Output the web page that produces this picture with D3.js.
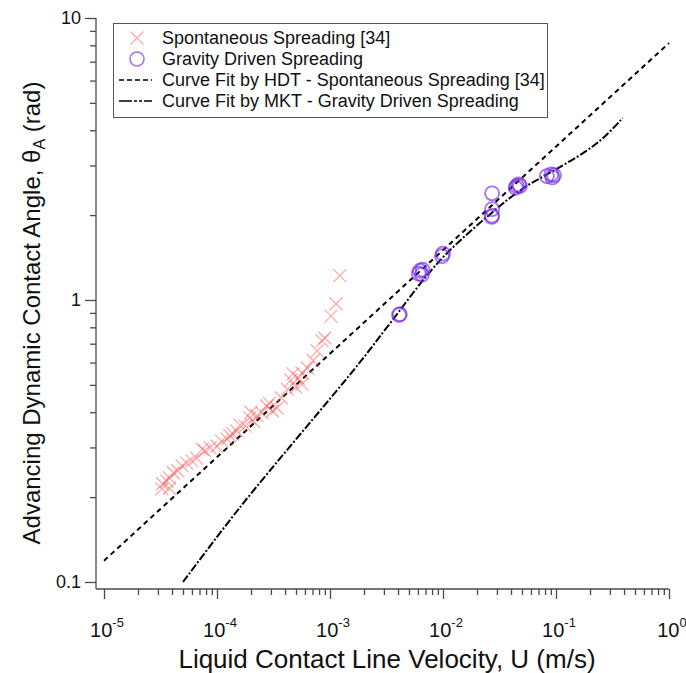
<!DOCTYPE html>
<html>
<head>
<meta charset="utf-8">
<script src="https://cdn.jsdelivr.net/npm/d3@7"></script>
<style>
  body { margin: 0; background: #fff; }
  svg { display: block; font-family: "Liberation Sans", Arial, sans-serif; }
</style>
</head>
<body>
<svg id="chart" width="686" height="673"></svg>
<script>
// Spontaneous spreading [34] (crosses)
const spontU = [1.22e-3, 1.13e-3, 1.02e-3, 9.0e-4, 8.5e-4, 7.7e-4, 7.1e-4, 6.3e-4, 5.65e-4, 5.25e-4,
  4.7e-4, 5.65e-4, 4.2e-4, 3.4e-4, 3.1e-4, 2.75e-4, 2.5e-4, 2.25e-4, 2.1e-4, 1.95e-4,
  1.78e-4, 1.5e-4, 1.38e-4, 1.23e-4, 1.1e-4, 1.0e-4, 8.7e-5, 7.8e-5, 7.4e-5, 6.6e-5,
  6.0e-5, 5.4e-5, 4.9e-5, 4.5e-5, 4.1e-5, 3.8e-5, 3.6e-5, 3.3e-5, 3.8e-5, 3.25e-5,
  2.9e-4, 4.5e-4, 5.0e-4, 3.7e-4, 2.0e-4, 1.6e-4, 1.3e-4];
const spontTheta = [1.22, 0.97, 0.877, 0.733, 0.716, 0.66, 0.61, 0.574, 0.551, 0.528,
  0.547, 0.503, 0.483, 0.414, 0.404, 0.421, 0.398, 0.389, 0.372, 0.382,
  0.357, 0.343, 0.335, 0.321, 0.316, 0.303, 0.299, 0.292, 0.296, 0.275,
  0.269, 0.264, 0.258, 0.248, 0.244, 0.234, 0.228, 0.223, 0.215, 0.214,
  0.43, 0.52, 0.49, 0.45, 0.40, 0.36, 0.33];

// Gravity driven spreading (circles)
const gravU = [4.08e-3, 4.15e-3, 6.25e-3, 6.5e-3, 6.6e-3, 6.1e-3, 1.0e-2, 9.8e-3,
  2.72e-2, 2.72e-2, 2.72e-2, 2.7e-2, 4.5e-2, 4.67e-2, 4.8e-2, 4.4e-2,
  8.3e-2, 9.1e-2, 9.6e-2, 9.3e-2];
const gravTheta = [0.885, 0.89, 1.27, 1.23, 1.28, 1.24, 1.46, 1.43,
  2.39, 2.10, 1.99, 1.97, 2.54, 2.57, 2.54, 2.50,
  2.75, 2.79, 2.77, 2.72];

// Curve fit by HDT
const hdtU = [1e-5, 1];
const hdtTheta = [0.119, 8.15];

// Curve fit by MKT
const mktU = [5.0e-5, 1.58e-4, 1.82e-3, 3.16e-3, 9.3e-3, 2.63e-2, 5.13e-2, 9.3e-2, 0.18, 0.27, 0.389];
const mktTheta = [0.1, 0.183, 0.598, 0.796, 1.374, 2.02, 2.49, 2.86, 3.35, 3.80, 4.42];

const xTicks = [1e-5, 1e-4, 1e-3, 1e-2, 1e-1, 1];
const xExp = ["-5", "-4", "-3", "-2", "-1", "0"];
const yTicks = [0.1, 1, 10];
const yTickLabels = ["0.1", "1", "10"];

const legendItems = [
  { label: "Spontaneous Spreading [34]", type: "cross" },
  { label: "Gravity Driven Spreading", type: "circle" },
  { label: "Curve Fit by HDT - Spontaneous Spreading [34]", type: "dash" },
  { label: "Curve Fit by MKT - Gravity Driven Spreading", type: "dashdot" }
];

const crossColor = "#ff5a5a";
const circleColor = "#7328e6";
const axisColor = "#4a4a4a";

const svg = d3.select("#chart");

const x = d3.scaleLog().domain([1e-5, 1]).range([104, 669]);
const y = d3.scaleLog().domain([0.1, 10]).range([582, 18]);

const axisX0 = 96, axisY0 = 589;

// minor tick values
const minorX = [];
for (let e = -5; e < 0; e++) for (let m = 2; m <= 9; m++) minorX.push(m * Math.pow(10, e));
const minorY = [];
for (let e = -1; e < 1; e++) for (let m = 2; m <= 9; m++) minorY.push(m * Math.pow(10, e));

// x axis
const gx = svg.append("g").attr("transform", "translate(0," + axisY0 + ")");
gx.call(d3.axisBottom(x).tickValues(minorX).tickSize(6).tickFormat(""));
gx.select(".domain").remove();
const gx2 = svg.append("g").attr("transform", "translate(0," + axisY0 + ")");
gx2.call(d3.axisBottom(x).tickValues(xTicks).tickSize(10).tickFormat(""));
gx2.select(".domain").remove();

svg.append("line")
  .attr("x1", axisX0).attr("x2", x(1)).attr("y1", axisY0).attr("y2", axisY0)
  .attr("stroke", axisColor).attr("stroke-width", 1.3);

const xl = svg.append("g").selectAll("text").data(xTicks).join("text")
  .attr("x", d => x(d) + 3)
  .attr("y", 637)
  .attr("text-anchor", "middle")
  .attr("font-size", 20)
  .attr("fill", "#111");
xl.append("tspan").text("10");
xl.append("tspan").attr("font-size", 13).attr("dy", -10).text((d, i) => xExp[i]);

// y axis
const gy = svg.append("g").attr("transform", "translate(" + axisX0 + ",0)");
gy.call(d3.axisLeft(y).tickValues(minorY).tickSize(6).tickFormat(""));
gy.select(".domain").remove();
const gy2 = svg.append("g").attr("transform", "translate(" + axisX0 + ",0)");
gy2.call(d3.axisLeft(y).tickValues(yTicks).tickSize(11).tickFormat(""));
gy2.select(".domain").remove();
svg.selectAll("g .tick line").attr("stroke", axisColor).attr("stroke-width", 1.3);

svg.append("line")
  .attr("x1", axisX0).attr("x2", axisX0).attr("y1", y(10)).attr("y2", axisY0)
  .attr("stroke", axisColor).attr("stroke-width", 1.3);

svg.append("g").selectAll("text").data(yTicks).join("text")
  .attr("x", 81)
  .attr("y", d => y(d) + 6)
  .attr("text-anchor", "end")
  .attr("font-size", 18)
  .attr("fill", "#111")
  .text((d, i) => yTickLabels[i]);

// axis titles
svg.append("text")
  .attr("x", 387).attr("y", 668)
  .attr("text-anchor", "middle")
  .attr("font-size", 26)
  .attr("fill", "#111")
  .text("Liquid Contact Line Velocity, U (m/s)");

const yt = svg.append("text")
  .attr("transform", "translate(40,313) rotate(-90)")
  .attr("text-anchor", "middle")
  .attr("font-size", 24)
  .attr("fill", "#111");
yt.append("tspan").text("Advancing Dynamic Contact Angle, θ");
yt.append("tspan").attr("font-size", 16).attr("dy", 5).text("A");
yt.append("tspan").attr("dy", -5).text(" (rad)");

// fitted curves
const line = d3.line().x(d => x(d[0])).y(d => y(d[1]));
svg.append("path")
  .datum(d3.zip(hdtU, hdtTheta))
  .attr("d", line)
  .attr("fill", "none")
  .attr("stroke", "#000")
  .attr("stroke-width", 2)
  .attr("stroke-dasharray", "5,4");

svg.append("path")
  .datum(d3.zip(mktU, mktTheta))
  .attr("d", line.curve(d3.curveCatmullRom))
  .attr("fill", "none")
  .attr("stroke", "#000")
  .attr("stroke-width", 2)
  .attr("stroke-dasharray", "8,2,2,2");

// crosses
const crossPath = "M-6.5,-6.5L6.5,6.5M-6.5,6.5L6.5,-6.5";
svg.append("g").selectAll("path").data(d3.zip(spontU, spontTheta)).join("path")
  .attr("transform", d => "translate(" + x(d[0]) + "," + y(d[1]) + ")")
  .attr("d", crossPath)
  .attr("stroke", crossColor)
  .attr("stroke-opacity", 0.55)
  .attr("stroke-width", 1.2)
  .attr("fill", "none");

// circles
svg.append("g").selectAll("circle").data(d3.zip(gravU, gravTheta)).join("circle")
  .attr("cx", d => x(d[0]))
  .attr("cy", d => y(d[1]))
  .attr("r", 7)
  .attr("fill", "none")
  .attr("stroke", circleColor)
  .attr("stroke-opacity", 0.65)
  .attr("stroke-width", 1.8);

// legend
const lg = svg.append("g");
lg.append("rect")
  .attr("x", 113.5).attr("y", 23.5).attr("width", 434).attr("height", 94)
  .attr("fill", "#fff").attr("stroke", "#555").attr("stroke-width", 1);

legendItems.forEach((item, i) => {
  const cy = 38 + i * 21;
  if (item.type === "cross") {
    lg.append("path").attr("transform", "translate(137," + cy + ")").attr("d", crossPath)
      .attr("stroke", crossColor).attr("stroke-opacity", 0.55).attr("stroke-width", 1.2);
  } else if (item.type === "circle") {
    lg.append("circle").attr("cx", 137).attr("cy", cy).attr("r", 7)
      .attr("fill", "none").attr("stroke", circleColor).attr("stroke-opacity", 0.65).attr("stroke-width", 1.6);
  } else {
    lg.append("line").attr("x1", 119).attr("x2", 152).attr("y1", cy).attr("y2", cy)
      .attr("stroke", "#000").attr("stroke-width", 1.6)
      .attr("stroke-dasharray", item.type === "dash" ? "5,3" : "13,2,3,2,3,2");
  }
  lg.append("text")
    .attr("x", 162).attr("y", cy + 6)
    .attr("font-size", 18)
    .attr("fill", "#111")
    .text(item.label);
});
</script>
</body>
</html>
